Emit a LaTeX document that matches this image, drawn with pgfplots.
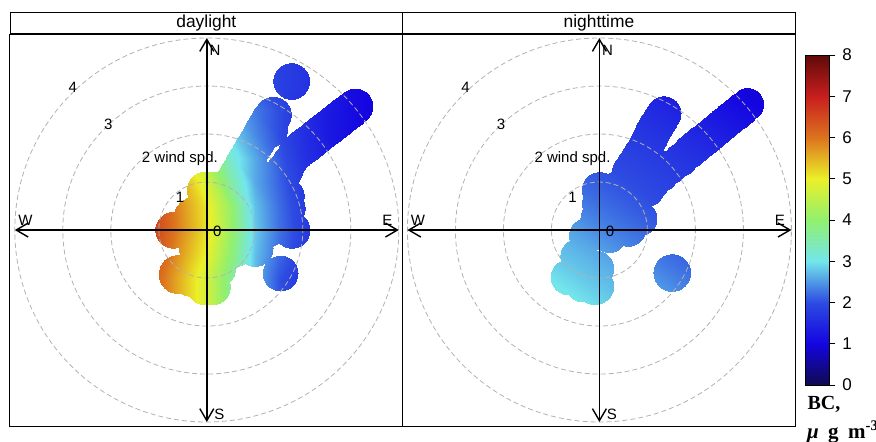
\documentclass[border=0pt]{standalone}
\usepackage{fontspec}
\setmainfont{Liberation Sans}
\newfontfamily\tnr{Liberation Serif}
\usepackage{pgfplots}
\pgfplotsset{compat=1.18}
\usetikzlibrary{arrows.meta}
\pgfplotsset{
  colormap={bc}{rgb255=(15,10,80) rgb255=(20,5,225) rgb255=(45,75,225) rgb255=(115,230,235) rgb255=(145,240,110) rgb255=(235,240,40) rgb255=(220,115,30) rgb255=(200,30,30) rgb255=(95,10,10)},
  polar panel/.style={anchor=south west, x=24pt, y=24pt,
    xmin=-4.1, xmax=4.08, ymin=-4.083, ymax=4.083,
    xtick=\empty, ytick=\empty, axis line style={line width=0.5pt},
    clip=false, colormap name=bc, point meta min=0, point meta max=8},
}
\tikzset{
  ring/.style={gray!60, line width=0.4pt, dash pattern=on 2.5pt off 1.5pt},
  compass/.style={line width=0.7pt, {Straight Barb[length=6pt,width=7pt]}-{Straight Barb[length=6pt,width=7pt]}},
}
\newcommand\lab{\fontsize{7.5}{8}\selectfont}
\newcommand\polardecor{%
  \draw[ring] (axis cs:0,0) circle[radius=1];
  \draw[ring] (axis cs:0,0) circle[radius=2];
  \draw[ring] (axis cs:0,0) circle[radius=3];
  \draw[ring] (axis cs:0,0) circle[radius=4];
  \draw[compass] (axis cs:0,-4) -- (axis cs:0,4);
  \draw[compass] (axis cs:-4,0) -- (axis cs:4,0);
  \node[font=\lab, anchor=west, inner sep=0pt] at (axis cs:0.05,3.75) {N};
  \node[font=\lab, inner sep=0pt] at (axis cs:3.76,0.21) {E};
  \node[font=\lab, inner sep=0pt] at (axis cs:-3.78,0.21) {W};
  \node[font=\lab, inner sep=0pt] at (axis cs:0.26,-3.83) {S};
  \node[font=\lab, inner sep=0pt] at (axis cs:0.22,-0.03) {0};
  \node[font=\lab, inner sep=0pt] at (axis cs:-0.56,0.69) {1};
  \node[font=\lab, inner sep=0pt] at (axis cs:-0.56,1.49) {2 wind spd.};
  \node[font=\lab, inner sep=0pt] at (axis cs:-2.05,2.21) {3};
  \node[font=\lab, inner sep=0pt] at (axis cs:-2.79,2.97) {4};
}
\newcommand\strip[1]{\node[draw, line width=0.5pt, minimum width=196.3pt, minimum height=10.5pt, inner sep=0pt, anchor=south, font=\fontsize{8.7}{10}\selectfont] at (rel axis cs:0.5,1) {#1};}
\begin{document}
\begin{tikzpicture}
\useasboundingbox (0,0) rectangle (438pt,220.5pt);
% ---------------- daylight ----------------
\begin{axis}[polar panel, at={(5pt,7.5pt)}]
\begin{scope}
\clip \foreach \px/\py/\pr in {
  1.86/1.62/0.38, 1.97/1.71/0.38, 2.08/1.79/0.38, 2.20/1.88/0.38, 2.31/1.97/0.38, 2.42/2.06/0.38,
  2.53/2.14/0.38, 2.64/2.23/0.38, 2.76/2.32/0.38, 2.87/2.41/0.38, 2.98/2.49/0.38, 3.09/2.58/0.37,
  0.55/1.02/0.38, 0.62/1.14/0.38, 0.69/1.25/0.38, 0.75/1.37/0.38, 0.82/1.48/0.38, 0.89/1.60/0.38,
  0.96/1.72/0.38, 1.03/1.83/0.38, 1.10/1.95/0.38, 1.16/2.07/0.38, 1.23/2.18/0.38, 1.30/2.30/0.38,
  1.38/2.40/0.38, 1.30/2.10/0.38,
  1.76/3.10/0.38,
  -0.70/0.00/0.38, -0.62/-0.90/0.38, -0.62/-0.94/0.38, -0.35/-1.00/0.38, -0.04/-1.18/0.38, 0.11/-1.18/0.38,
  -0.04/0.84/0.38, 0.15/0.84/0.38, 1.77/0.00/0.38, 1.67/0.45/0.38, 1.65/0.70/0.38, 1.46/1.00/0.38,
  1.62/1.25/0.38, 1.72/1.42/0.36, 0.60/-0.38/0.38, 1.00/-0.38/0.38, 0.50/0.20/0.75, 1.10/0.30/0.70,
  0.00/-0.30/0.60, -0.25/0.25/0.45, 1.00/1.00/0.50, 0.20/-0.80/0.40,
  1.53/-0.90/0.37} {(axis cs:\px,\py) circle[radius=\pr]};
\addplot[surf, shader=interp, mesh/cols=11, point meta=explicit] coordinates {
(-1.5,-2.0)[6.70] (-1,-2.0)[6.10] (-0.5,-2.0)[5.40] (0,-2.0)[4.70] (0.5,-2.0)[3.70] (1,-2.0)[2.70] (1.5,-2.0)[2.05] (2,-2.0)[1.70] (2.5,-2.0)[1.45] (3,-2.0)[1.15] (3.5,-2.0)[0.97]
(-1.5,-1.5)[6.70] (-1,-1.5)[6.10] (-0.5,-1.5)[5.40] (0,-1.5)[4.70] (0.5,-1.5)[3.70] (1,-1.5)[2.70] (1.5,-1.5)[2.05] (2,-1.5)[1.70] (2.5,-1.5)[1.45] (3,-1.5)[1.15] (3.5,-1.5)[0.97]
(-1.5,-1.0)[6.70] (-1,-1.0)[6.10] (-0.5,-1.0)[5.40] (0,-1.0)[4.70] (0.5,-1.0)[3.70] (1,-1.0)[2.70] (1.5,-1.0)[2.05] (2,-1.0)[1.70] (2.5,-1.0)[1.45] (3,-1.0)[1.15] (3.5,-1.0)[0.97]
(-1.5,-0.5)[6.80] (-1,-0.5)[6.30] (-0.5,-0.5)[5.60] (0,-0.5)[4.95] (0.5,-0.5)[3.95] (1,-0.5)[2.75] (1.5,-0.5)[2.20] (2,-0.5)[1.82] (2.5,-0.5)[1.48] (3,-0.5)[1.18] (3.5,-0.5)[0.98]
(-1.5,0.0)[6.90] (-1,0.0)[6.45] (-0.5,0.0)[5.75] (0,0.0)[5.10] (0.5,0.0)[4.10] (1,0.0)[2.80] (1.5,0.0)[2.25] (2,0.0)[1.85] (2.5,0.0)[1.50] (3,0.0)[1.20] (3.5,0.0)[1.00]
(-1.5,0.5)[6.85] (-1,0.5)[6.40] (-0.5,0.5)[5.70] (0,0.5)[5.05] (0.5,0.5)[4.05] (1,0.5)[2.75] (1.5,0.5)[2.22] (2,0.5)[1.82] (2.5,0.5)[1.48] (3,0.5)[1.18] (3.5,0.5)[1.00]
(-1.5,1.0)[6.70] (-1,1.0)[6.20] (-0.5,1.0)[5.50] (0,1.0)[4.75] (0.5,1.0)[3.55] (1,1.0)[2.60] (1.5,1.0)[2.15] (2,1.0)[1.75] (2.5,1.0)[1.40] (3,1.0)[1.15] (3.5,1.0)[0.98]
(-1.5,1.5)[6.40] (-1,1.5)[5.80] (-0.5,1.5)[5.10] (0,1.5)[4.30] (0.5,1.5)[3.20] (1,1.5)[2.60] (1.5,1.5)[2.10] (2,1.5)[1.65] (2.5,1.5)[1.35] (3,1.5)[1.10] (3.5,1.5)[0.95]
(-1.5,2.0)[6.00] (-1,2.0)[5.30] (-0.5,2.0)[4.60] (0,2.0)[3.80] (0.5,2.0)[2.90] (1,2.0)[2.40] (1.5,2.0)[2.00] (2,2.0)[1.60] (2.5,2.0)[1.30] (3,2.0)[1.10] (3.5,2.0)[0.95]
(-1.5,2.5)[5.70] (-1,2.5)[5.00] (-0.5,2.5)[4.30] (0,2.5)[3.50] (0.5,2.5)[2.70] (1,2.5)[2.30] (1.5,2.5)[2.00] (2,2.5)[1.60] (2.5,2.5)[1.30] (3,2.5)[1.10] (3.5,2.5)[0.95]
(-1.5,3.0)[5.40] (-1,3.0)[4.70] (-0.5,3.0)[4.00] (0,3.0)[3.20] (0.5,3.0)[2.50] (1,3.0)[2.10] (1.5,3.0)[1.85] (2,3.0)[1.70] (2.5,3.0)[1.35] (3,3.0)[1.10] (3.5,3.0)[0.95]
(-1.5,3.5)[5.40] (-1,3.5)[4.70] (-0.5,3.5)[4.00] (0,3.5)[3.20] (0.5,3.5)[2.50] (1,3.5)[2.10] (1.5,3.5)[1.85] (2,3.5)[1.70] (2.5,3.5)[1.35] (3,3.5)[1.10] (3.5,3.5)[0.95]
};
\end{scope}
\polardecor
\strip{daylight}
\end{axis}
% ---------------- nighttime ----------------
\begin{axis}[polar panel, at={(201.3pt,7.5pt)},
  colorbar,
  colorbar style={at={(parent axis.south east)}, anchor=south west, xshift=-3.53pt, yshift=20.5pt,
    width=12pt, height=165pt, ytick={0,1,...,8}, ytick pos=right, tick align=outside,
    major tick length=3pt, tick style={black, line width=0.4pt},
    axis line style={line width=0.4pt},
    yticklabel style={font=\fontsize{8.5}{9}\selectfont},
    /pgf/number format/assume math mode=true}]
\begin{scope}
\clip \foreach \px/\py/\pr in {
  1.88/1.64/0.35, 2.00/1.74/0.35, 2.12/1.84/0.35, 2.24/1.93/0.35, 2.36/2.03/0.35, 2.48/2.13/0.35,
  2.60/2.23/0.35, 2.72/2.33/0.35, 2.84/2.42/0.35, 2.96/2.52/0.35, 3.08/2.62/0.34,
  1.48/1.32/0.35, 1.69/1.47/0.35, 0.99/0.84/0.35, 1.10/0.98/0.35, 1.28/1.15/0.35,
  0.63/1.22/0.37, 0.71/1.34/0.37, 0.79/1.46/0.37, 0.86/1.58/0.37, 0.94/1.70/0.37, 1.00/1.82/0.37,
  1.06/1.94/0.37, 1.11/2.05/0.37, 1.18/2.17/0.37, 1.26/2.30/0.37, 1.34/2.43/0.36,
  0.00/0.84/0.37, 0.00/0.55/0.37, -0.03/0.25/0.37, -0.27/-0.12/0.37, -0.45/-0.55/0.37,
  -0.65/-0.98/0.37, -0.35/-1.14/0.36, -0.10/-1.19/0.37, -0.07/-1.17/0.37, -0.07/-0.80/0.37,
  0.20/-0.10/0.37, 0.60/0.03/0.37, 0.85/0.24/0.35, 0.40/0.45/0.50, 0.55/0.95/0.40, 0.30/0.80/0.40,
  1.51/-0.89/0.39} {(axis cs:\px,\py) circle[radius=\pr]};
\addplot[surf, shader=interp, mesh/cols=11, point meta=explicit] coordinates {
(-1.5,-2.0)[3.20] (-1,-2.0)[3.15] (-0.5,-2.0)[3.10] (0,-2.0)[3.05] (0.5,-2.0)[2.94] (1,-2.0)[2.80] (1.5,-2.0)[2.71] (2,-2.0)[2.60] (2.5,-2.0)[2.45] (3,-2.0)[2.32] (3.5,-2.0)[2.20]
(-1.5,-1.5)[3.14] (-1,-1.5)[3.09] (-0.5,-1.5)[3.03] (0,-1.5)[2.89] (0.5,-1.5)[2.77] (1,-1.5)[2.68] (1.5,-1.5)[2.55] (2,-1.5)[2.40] (2.5,-1.5)[2.28] (3,-1.5)[2.17] (3.5,-1.5)[2.08]
(-1.5,-1.0)[3.07] (-1,-1.0)[2.98] (-0.5,-1.0)[2.85] (0,-1.0)[2.74] (0.5,-1.0)[2.65] (1,-1.0)[2.50] (1.5,-1.0)[2.36] (2,-1.0)[2.24] (2.5,-1.0)[2.14] (3,-1.0)[2.05] (3.5,-1.0)[1.96]
(-1.5,-0.5)[2.94] (-1,-0.5)[2.80] (-0.5,-0.5)[2.71] (0,-0.5)[2.60] (0.5,-0.5)[2.45] (1,-0.5)[2.32] (1.5,-0.5)[2.20] (2,-0.5)[2.11] (2.5,-0.5)[2.02] (3,-0.5)[1.93] (3.5,-0.5)[1.84]
(-1.5,0.0)[2.77] (-1,0.0)[2.68] (-0.5,0.0)[2.55] (0,0.0)[2.40] (0.5,0.0)[2.28] (1,0.0)[2.17] (1.5,0.0)[2.08] (2,0.0)[1.99] (2.5,0.0)[1.90] (3,0.0)[1.81] (3.5,0.0)[1.72]
(-1.5,0.5)[2.65] (-1,0.5)[2.50] (-0.5,0.5)[2.36] (0,0.5)[2.24] (0.5,0.5)[2.14] (1,0.5)[2.05] (1.5,0.5)[1.96] (2,0.5)[1.87] (2.5,0.5)[1.78] (3,0.5)[1.69] (3.5,0.5)[1.60]
(-1.5,1.0)[2.45] (-1,1.0)[2.32] (-0.5,1.0)[2.20] (0,1.0)[2.11] (0.5,1.0)[2.02] (1,1.0)[1.93] (1.5,1.0)[1.84] (2,1.0)[1.75] (2.5,1.0)[1.66] (3,1.0)[1.56] (3.5,1.0)[1.44]
(-1.5,1.5)[2.28] (-1,1.5)[2.17] (-0.5,1.5)[2.08] (0,1.5)[1.99] (0.5,1.5)[1.90] (1,1.5)[1.81] (1.5,1.5)[1.72] (2,1.5)[1.63] (2.5,1.5)[1.52] (3,1.5)[1.40] (3.5,1.5)[1.28]
(-1.5,2.0)[2.14] (-1,2.0)[2.05] (-0.5,2.0)[1.96] (0,2.0)[1.87] (0.5,2.0)[1.78] (1,2.0)[1.69] (1.5,2.0)[1.60] (2,2.0)[1.48] (2.5,2.0)[1.36] (3,2.0)[1.24] (3.5,2.0)[1.12]
(-1.5,2.5)[2.02] (-1,2.5)[1.93] (-0.5,2.5)[1.84] (0,2.5)[1.75] (0.5,2.5)[1.66] (1,2.5)[1.56] (1.5,2.5)[1.44] (2,2.5)[1.32] (2.5,2.5)[1.20] (3,2.5)[1.08] (3.5,2.5)[0.98]
(-1.5,3.0)[1.90] (-1,3.0)[1.81] (-0.5,3.0)[1.72] (0,3.0)[1.63] (0.5,3.0)[1.52] (1,3.0)[1.40] (1.5,3.0)[1.28] (2,3.0)[1.16] (2.5,3.0)[1.04] (3,3.0)[0.96] (3.5,3.0)[0.90]
(-1.5,3.5)[1.78] (-1,3.5)[1.69] (-0.5,3.5)[1.60] (0,3.5)[1.48] (0.5,3.5)[1.36] (1,3.5)[1.24] (1.5,3.5)[1.12] (2,3.5)[1.00] (2.5,3.5)[0.94] (3,3.5)[0.89] (3.5,3.5)[0.86]
};
\end{scope}
\polardecor
\strip{nighttime}
\end{axis}
\node[font=\tnr\bfseries\fontsize{10}{11}\selectfont, inner sep=0pt] at (412pt,18.5pt) {BC,};
\node[font=\tnr\bfseries\fontsize{10.5}{11}\selectfont, inner sep=0pt] at (421.5pt,4.5pt) {\textit{μ}\hspace{0.45em}g\hspace{0.45em}m\textsuperscript{-3}};
\end{tikzpicture}
\end{document}
